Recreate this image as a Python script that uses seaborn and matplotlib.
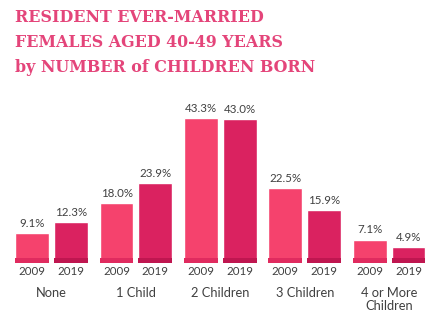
import matplotlib
matplotlib.use("Agg")
import matplotlib.pyplot as plt
from matplotlib.patches import Rectangle
import seaborn as sns
import pandas as pd

categories = ["None", "1 Child", "2 Children", "3 Children", "4 or More\nChildren"]
years = ["2009", "2019"]
share_2009 = [9.1, 18.0, 43.3, 22.5, 7.1]
share_2019 = [12.3, 23.9, 43.0, 15.9, 4.9]

df = pd.DataFrame({
    "category": categories * 2,
    "year": [years[0]] * len(categories) + [years[1]] * len(categories),
    "share": share_2009 + share_2019,
})

bar_colors = {"2009": "#F5426D", "2019": "#DA2260"}
base_colors = {"2009": "#E02B5F", "2019": "#BF1650"}
title_color = "#E4457A"
text_color = "#404040"

sns.set_theme(style="white")
plt.rcParams["font.family"] = ["Lato", "DejaVu Sans"]

W, H = 433, 335
fig = plt.figure(figsize=(W / 100, H / 100), dpi=100)
fig.patch.set_facecolor("white")

base_px = 263.3
top_px = 100.0
ax = fig.add_axes([0, (H - base_px) / H, 1, (base_px - top_px) / H])
ax.set_facecolor("white")

sns.barplot(data=df, x="category", y="share", hue="year", order=categories,
            hue_order=years, palette=bar_colors, width=0.918, gap=0.128,
            dodge=True, legend=False, ax=ax, saturation=1)

spacing = 84.4
ax.set_xlim(-51.5 / spacing, (W - 51.5) / spacing)
ax.set_ylim(0, (base_px - top_px) / 3.35)
ax.axis("off")

# darker band along the foot of each bar, plus value and year labels
for container, yr in zip(ax.containers, years):
    for patch in container:
        x0, w = patch.get_x(), patch.get_width()
        ax.add_patch(Rectangle((x0, 0), w, 1.7, facecolor=base_colors[yr],
                               edgecolor="none", zorder=3))
        ax.text(x0 + w / 2, -0.8, yr, ha="center", va="top",
                fontsize=8.3, color=text_color)
    ax.bar_label(container, labels=[f"{v:.1f}%" for v in container.datavalues],
                 padding=3, fontsize=8.3, color=text_color)

for i, cat in enumerate(categories):
    ax.text(i, -7.2, cat, ha="center", va="top", fontsize=9.3,
            color=text_color, linespacing=1.05)

title_lines = ["RESIDENT EVER-MARRIED", "FEMALES AGED 40-49 YEARS",
               "by NUMBER of CHILDREN BORN"]
for line, base in zip(title_lines, [22, 47, 72]):
    fig.text(15 / W, 1 - base / H, line, ha="left", va="baseline",
             fontsize=11.4, fontweight="bold", color=title_color,
             family="DejaVu Serif")

fig.savefig("out.png", dpi=100, facecolor="white")
